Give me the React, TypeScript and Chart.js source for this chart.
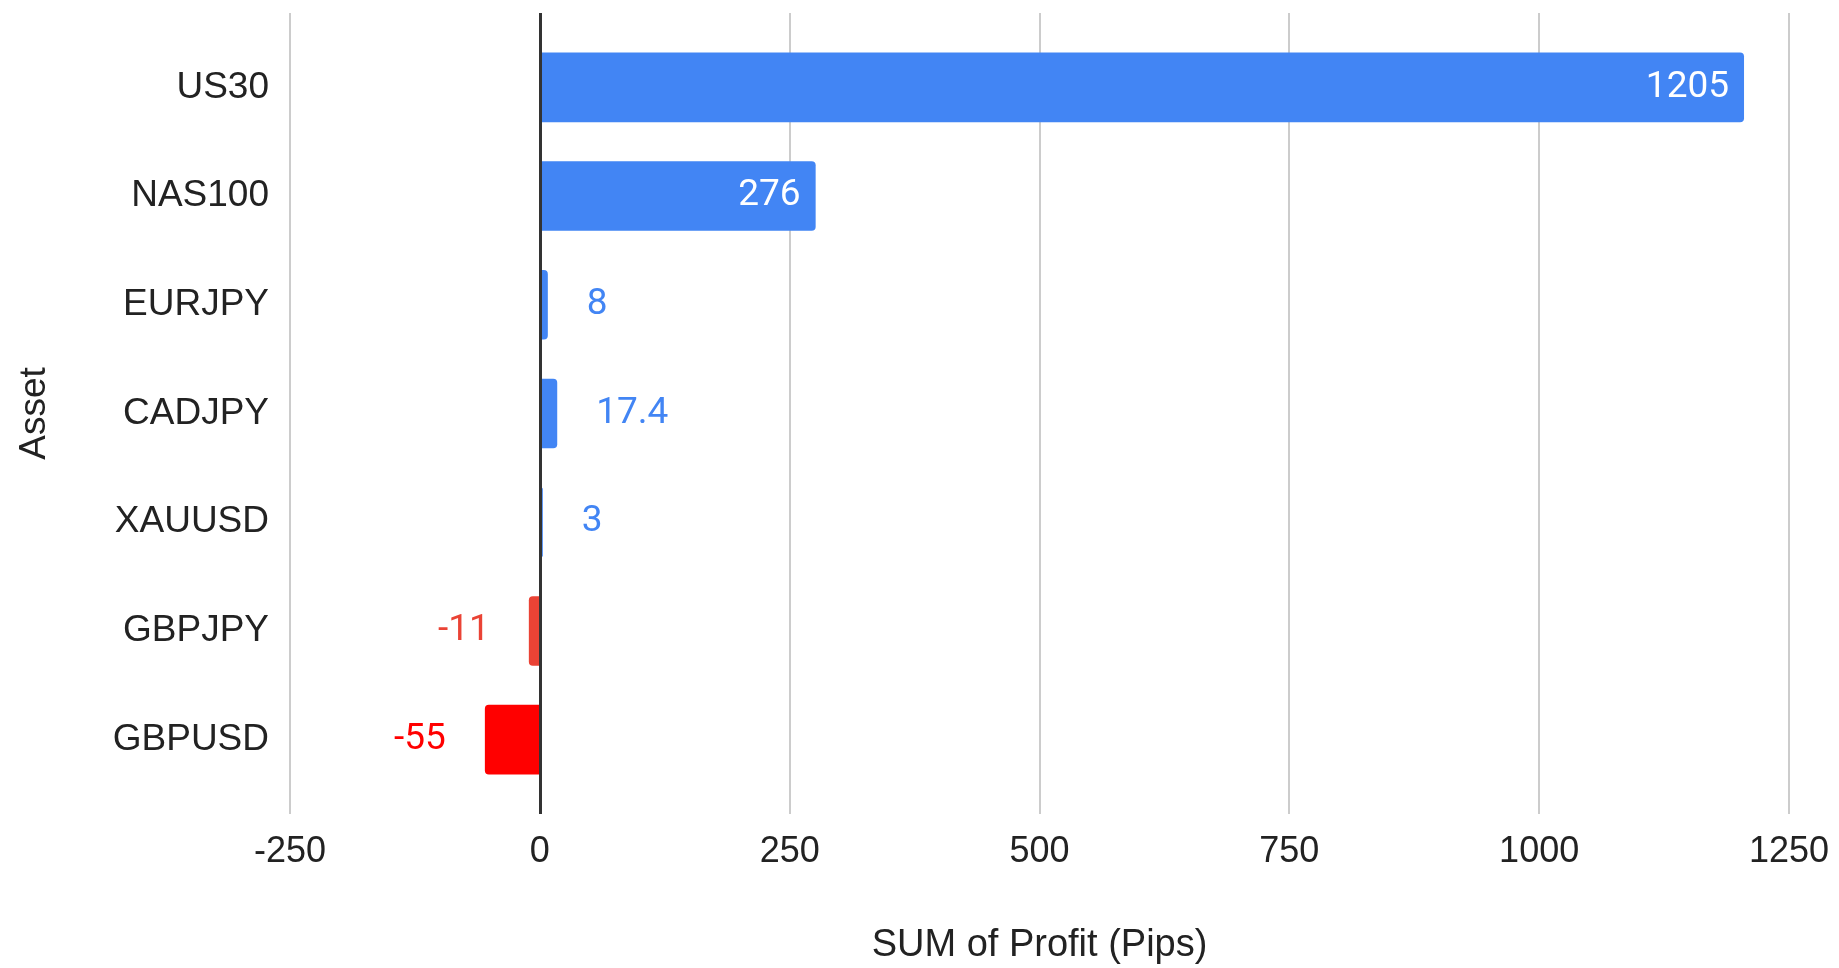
import React, { useEffect, useRef } from 'react';
import { Chart, registerables } from 'chart.js';

Chart.register(...registerables);

const categories = ['US30', 'NAS100', 'EURJPY', 'CADJPY', 'XAUUSD', 'GBPJPY', 'GBPUSD'];
const profits = [1205, 276, 8, 17.4, 3, -11, -55];
const barColors = ['#4285f4', '#4285f4', '#4285f4', '#4285f4', '#4285f4', '#ea4335', '#ff0000'];
const xTickValues = [-250, 0, 250, 500, 750, 1000, 1250];
const xAxisTitle = 'SUM of Profit (Pips)';
const yAxisTitle = 'Asset';

const AXIS_FONT = '"Liberation Sans", Arial, sans-serif';
const LABEL_FONT = 'Roboto, "Liberation Sans", Arial, sans-serif';

const extendedGrid = {
  id: 'extendedGrid',
  beforeDatasetsDraw(chart: any) {
    const { ctx, chartArea, scales } = chart;
    const xs = scales.x;
    ctx.save();
    ctx.strokeStyle = '#cccccc';
    ctx.lineWidth = 2;
    xTickValues.forEach((v) => {
      if (v === 0) return;
      const px = Math.round(xs.getPixelForValue(v));
      ctx.beginPath();
      ctx.moveTo(px, chartArea.top - 20);
      ctx.lineTo(px, chartArea.bottom + 20);
      ctx.stroke();
    });
    ctx.restore();
  },
  afterDatasetsDraw(chart: any) {
    const { ctx, chartArea, scales } = chart;
    const xs = scales.x;
    ctx.save();
    const zx = Math.round(xs.getPixelForValue(0)) + 0.5;
    ctx.strokeStyle = '#333333';
    ctx.lineWidth = 3;
    ctx.beginPath();
    ctx.moveTo(zx, chartArea.top - 20);
    ctx.lineTo(zx, chartArea.bottom + 20);
    ctx.stroke();

    const meta = chart.getDatasetMeta(0);
    ctx.font = `37px ${LABEL_FONT}`;
    ctx.textBaseline = 'middle';
    meta.data.forEach((bar: any, i: number) => {
      const { x, y, base } = bar.getProps(['x', 'y', 'base'], true);
      const v = profits[i];
      const text = String(v);
      const w = ctx.measureText(text).width;
      const len = Math.abs(x - base);
      const positive = v >= 0;
      if (w + 30 <= len) {
        ctx.fillStyle = '#ffffff';
        ctx.textAlign = positive ? 'right' : 'left';
        ctx.fillText(text, positive ? x - 15 : x + 15, y);
      } else {
        ctx.fillStyle = barColors[i];
        ctx.textAlign = positive ? 'left' : 'right';
        ctx.fillText(text, positive ? x + 39 : x - 39, y);
      }
    });
    ctx.restore();
  },
};

export default function App() {
  const canvasRef = useRef<HTMLCanvasElement | null>(null);

  useEffect(() => {
    document.body.style.margin = '0';
    const canvas = canvasRef.current;
    if (!canvas) return;
    const chart = new Chart(canvas, {
      type: 'bar',
      data: {
        labels: categories,
        datasets: [
          {
            data: profits,
            backgroundColor: barColors,
            borderRadius: 4,
            borderSkipped: 'start',
            barPercentage: 0.64,
            categoryPercentage: 1,
          },
        ],
      },
      options: {
        indexAxis: 'y',
        responsive: false,
        animation: false,
        devicePixelRatio: 1,
        layout: { padding: { top: 33, right: 50, bottom: 0, left: 0 } },
        plugins: {
          legend: { display: false },
          tooltip: { enabled: false },
        },
        scales: {
          x: {
            type: 'linear',
            min: -250,
            max: 1250,
            afterBuildTicks: (scale: any) => {
              scale.ticks = xTickValues.map((v) => ({ value: v }));
            },
            afterFit: (scale: any) => {
              scale.height = 174;
              scale.paddingLeft = 0;
              scale.paddingRight = 0;
            },
            grid: { display: false, drawTicks: false },
            border: { display: false },
            ticks: {
              padding: 36,
              color: '#222222',
              font: { family: AXIS_FONT, size: 36 },
              callback: (v: any) => String(v),
              maxRotation: 0,
              autoSkip: false,
            },
            title: {
              display: true,
              text: xAxisTitle,
              color: '#222222',
              font: { family: AXIS_FONT, size: 38 },
              padding: { top: 0, bottom: 0 },
            },
          },
          y: {
            type: 'category',
            afterFit: (scale: any) => {
              scale.width = 290;
              scale.paddingTop = 0;
              scale.paddingBottom = 0;
            },
            grid: { display: false, drawTicks: false },
            border: { display: false },
            ticks: {
              padding: 21,
              color: '#222222',
              font: { family: AXIS_FONT, size: 37 },
              autoSkip: false,
            },
            title: {
              display: true,
              text: yAxisTitle,
              color: '#222222',
              font: { family: AXIS_FONT, size: 37 },
              padding: { top: 13, bottom: 0 },
            },
          },
        },
      },
      plugins: [extendedGrid],
    } as any);
    return () => chart.destroy();
  }, []);

  return (
    <div style={{ width: 1839, height: 968 }}>
      <canvas ref={canvasRef} width={1839} height={968} style={{ display: 'block' }} />
    </div>
  );
}
